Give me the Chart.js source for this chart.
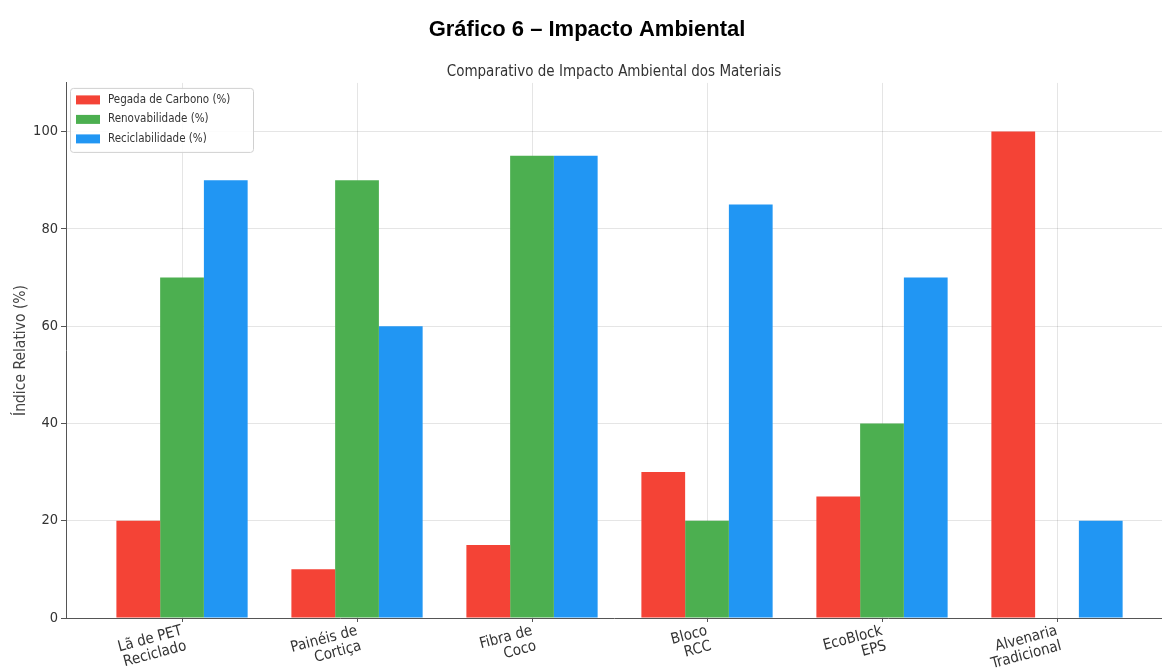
<!DOCTYPE html>
<html>
<head>
<meta charset="utf-8">
<script src="https://cdn.jsdelivr.net/npm/chart.js@4"></script>
<style>
  html, body { margin: 0; padding: 0; background: #fff; }
  #wrap { width: 1162px; height: 669px; }
</style>
</head>
<body>
<div id="wrap"><canvas id="impactoChart"></canvas></div>
<script>
// Materiais (categorias do eixo x)
var materiais = [
    ['Lã de PET', 'Reciclado'],
    ['Painéis de', 'Cortiça'],
    ['Fibra de', 'Coco'],
    ['Bloco', 'RCC'],
    ['EcoBlock', 'EPS'],
    ['Alvenaria', 'Tradicional']
];

// Valores de cada série (%)
var pegadaCarbono = [20, 10, 15, 30, 25, 100];
var renovabilidade = [70, 90, 95, 20, 40, 0];
var reciclabilidade = [90, 60, 95, 85, 70, 20];

// Ticks do eixo y
var ticksY = [0, 20, 40, 60, 80, 100];

var fonte = "'DejaVu Sans Condensed', 'DejaVu Sans', sans-serif";

function pontos(valores) {
    return valores.map(function (v, i) { return { x: i, y: v }; });
}

// Legenda desenhada dentro da área do gráfico (canto superior esquerdo)
var legendaInterna = {
    id: 'legendaInterna',
    afterDraw: function (chart) {
        var ctx = chart.ctx;
        var area = chart.chartArea;
        var x0 = area.left + 4, y0 = area.top + 5;
        var w = 183, h = 64;
        ctx.save();
        ctx.fillStyle = 'rgba(255,255,255,0.85)';
        ctx.strokeStyle = '#d0d0d0';
        ctx.lineWidth = 1;
        ctx.beginPath();
        ctx.roundRect(x0 + 0.5, y0 + 0.5, w, h, 3);
        ctx.fill();
        ctx.stroke();
        ctx.font = '11.5px ' + fonte;
        ctx.textBaseline = 'middle';
        chart.data.datasets.forEach(function (ds, i) {
            var cy = y0 + 12 + i * 19.5;
            ctx.fillStyle = ds.backgroundColor;
            ctx.fillRect(x0 + 6, cy - 4.5, 24, 9);
            ctx.fillStyle = '#333';
            ctx.fillText(ds.label, x0 + 38, cy);
        });
        ctx.restore();
    }
};

var ctx = document.getElementById('impactoChart').getContext('2d');

var impactoChart = new Chart(ctx, {
    type: 'bar',
    data: {
        datasets: [
            { label: 'Pegada de Carbono (%)', data: pontos(pegadaCarbono), backgroundColor: '#F44336' },
            { label: 'Renovabilidade (%)', data: pontos(renovabilidade), backgroundColor: '#4CAF50' },
            { label: 'Reciclabilidade (%)', data: pontos(reciclabilidade), backgroundColor: '#2196F3' }
        ]
    },
    options: {
        responsive: true,
        maintainAspectRatio: false,
        animation: false,
        categoryPercentage: 0.75,
        barPercentage: 1.0,
        layout: { padding: { left: 12, right: 0, top: 0, bottom: 0 } },
        plugins: {
            legend: { display: false },
            tooltip: { enabled: false },
            title: {
                display: true,
                text: 'Gráfico 6 – Impacto Ambiental',
                color: '#000',
                font: { family: "'Liberation Sans', Arial, sans-serif", size: 22, weight: 'bold' },
                padding: { top: 17, bottom: 9 }
            },
            subtitle: {
                display: true,
                fullSize: false,
                text: 'Comparativo de Impacto Ambiental dos Materiais',
                color: '#333',
                font: { family: fonte, size: 15 },
                padding: { top: 11, bottom: 1.5 }
            }
        },
        scales: {
            x: {
                type: 'linear',
                offset: false,
                min: -0.663,
                max: 5.6,
                z: 1,
                afterBuildTicks: function (axis) {
                    axis.ticks = materiais.map(function (_, i) { return { value: i }; });
                },
                afterFit: function (axis) { axis.height = 51; },
                ticks: {
                    minRotation: 15,
                    maxRotation: 15,
                    color: '#333',
                    padding: 1,
                    font: { family: fonte, size: 15, lineHeight: 1.05 },
                    callback: function (v) { return materiais[v]; }
                },
                grid: {
                    offset: false,
                    color: 'rgba(0,0,0,0.10)',
                    tickColor: '#555',
                    tickLength: 4
                },
                border: { display: true, color: '#555', width: 1 }
            },
            y: {
                min: 0,
                max: 110,
                z: 1,
                afterBuildTicks: function (axis) {
                    axis.ticks = ticksY.map(function (v) { return { value: v }; });
                },
                afterFit: function (axis) { axis.width = 54; },
                title: {
                    display: true,
                    text: 'Índice Relativo (%)',
                    color: '#444',
                    font: { family: fonte, size: 15.5 },
                    padding: 0
                },
                ticks: {
                    color: '#333',
                    padding: 3,
                    font: { family: fonte, size: 14.5 }
                },
                grid: {
                    color: function (c) { return c.tick && c.tick.value === 0 ? 'rgba(0,0,0,0)' : 'rgba(0,0,0,0.10)'; },
                    tickColor: '#555',
                    tickLength: 5
                },
                border: { display: true, color: '#555', width: 1 }
            }
        }
    },
    plugins: [legendaInterna]
});
</script>
</body>
</html>
